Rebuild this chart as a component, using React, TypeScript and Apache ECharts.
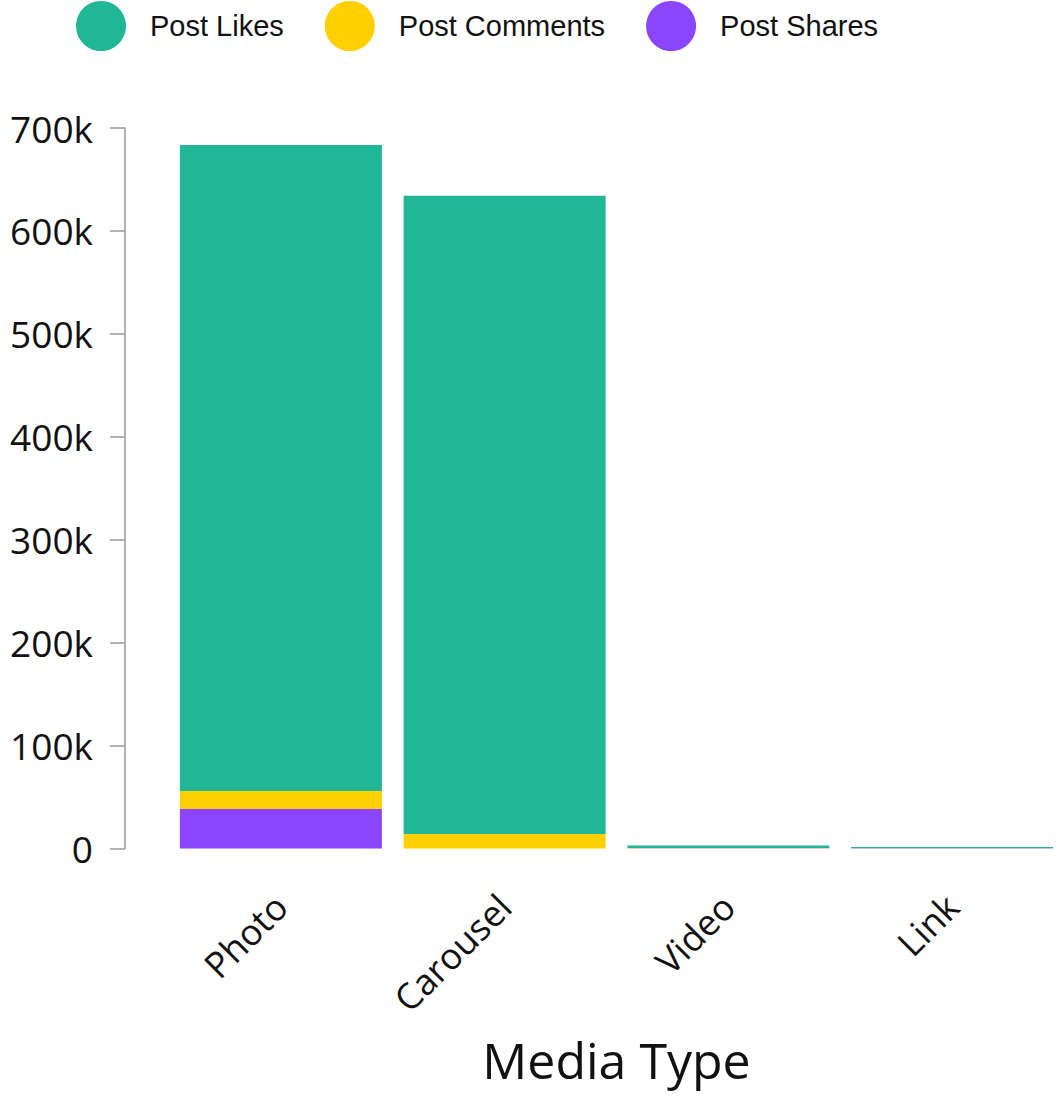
import React, { useEffect, useRef } from "react";
import * as echarts from "echarts";

const mediaTypes = ["Photo", "Carousel", "Video", "Link"];
const postLikes = [627700, 620000, 2500, 1100];
const postComments = [17500, 14100, 200, 100];
const postShares = [38400, 0, 300, 150];
const yTicks = { min: 0, max: 700000, interval: 100000 };

const GREEN = "#21b796";
const YELLOW = "#ffd000";
const PURPLE = "#8b45fe";
const TEXT = "#111111";
const FONT = "'Open Sans', Lato, sans-serif";

export default function App() {
  const ref = useRef<HTMLDivElement>(null);

  useEffect(() => {
    if (!ref.current) return;
    const chart = echarts.init(ref.current, undefined, { renderer: "svg" });
    const barStyle = (name: string, data: number[], color: string) => ({
      name,
      type: "bar",
      stack: "total",
      data,
      barWidth: 202,
      itemStyle: { color },
      emphasis: { disabled: true },
    });
    chart.setOption({
      animation: false,
      backgroundColor: "#ffffff",
      legend: {
        data: ["Post Likes", "Post Comments", "Post Shares"],
        left: 71,
        top: -4,
        icon: "circle",
        itemWidth: 50,
        itemHeight: 50,
        itemGap: 41,
        textStyle: {
          fontFamily: "'Liberation Sans', Arial, sans-serif",
          fontSize: 29,
          color: TEXT,
          padding: [0, 0, 0, 19],
        },
      },
      grid: { left: 169, top: 128, width: 904, height: 720.5 },
      xAxis: {
        type: "category",
        data: mediaTypes,
        name: "Media Type",
        nameLocation: "middle",
        nameGap: 186,
        nameTextStyle: { fontFamily: FONT, fontSize: 50, color: TEXT },
        axisLine: { show: false },
        axisTick: { show: false },
        axisLabel: {
          rotate: 45,
          margin: 52,
          fontFamily: FONT,
          fontSize: 36,
          color: TEXT,
        },
      },
      yAxis: {
        type: "value",
        min: yTicks.min,
        max: yTicks.max,
        interval: yTicks.interval,
        offset: 44,
        splitLine: { show: false },
        axisLine: { show: true, lineStyle: { color: "#9a9a9a", width: 1.5 } },
        axisTick: { show: true, length: 15, lineStyle: { color: "#9a9a9a", width: 1.5 } },
        axisLabel: {
          margin: 32,
          fontFamily: FONT,
          fontSize: 37,
          color: TEXT,
          formatter: (v: number) => (v === 0 ? "0" : `${v / 1000}k`),
        },
      },
      series: [
        barStyle("Post Shares", postShares, PURPLE),
        barStyle("Post Comments", postComments, YELLOW),
        barStyle("Post Likes", postLikes, GREEN),
      ],
    });
    return () => chart.dispose();
  }, []);

  return (
    <div
      ref={ref}
      style={{ position: "absolute", left: 0, top: 0, width: 1064, height: 1098 }}
    />
  );
}
